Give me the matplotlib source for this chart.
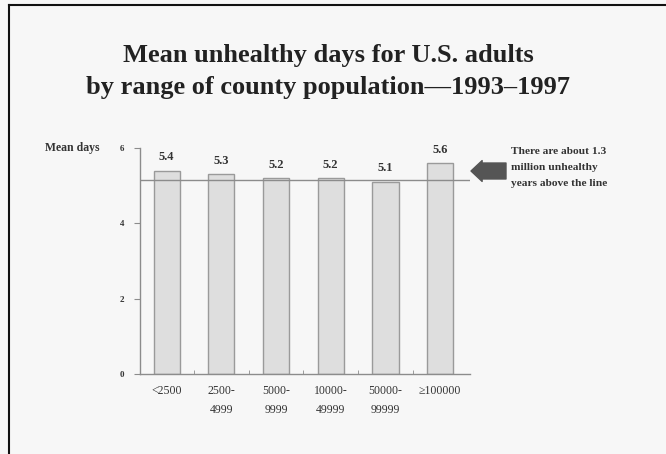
import matplotlib
matplotlib.use("Agg")
import matplotlib.pyplot as plt
from matplotlib.lines import Line2D

# Mean unhealthy days by county population size, 1993-1997
categories = ["<2500", "2500-\n4999", "5000-\n9999", "10000-\n49999", "50000-\n99999", "\u2265100000"]
mean_days = [5.4, 5.3, 5.2, 5.2, 5.1, 5.6]
overall_mean = 5.15
y_ticks = [0, 2, 4, 6]

plt.rcParams["font.family"] = ["Liberation Serif", "DejaVu Serif"]

fig = plt.figure(figsize=(6.66, 4.54), dpi=100, facecolor="#f7f7f7")
ax = fig.add_axes([0.210, 0.176, 0.496, 0.498])
ax.set_facecolor("#f7f7f7")

x = list(range(len(categories)))
ax.bar(x, mean_days, width=0.48, color="#dedede", edgecolor="#9a9a9a", linewidth=1.0, zorder=2)
ax.axhline(overall_mean, color="#8c8c8c", linewidth=1.0, zorder=3)

for xi, v in zip(x, mean_days):
    ax.text(xi, v + 0.2, f"{v:.1f}", ha="center", va="bottom", fontsize=9,
            fontweight="bold", color="#333333")

ax.set_xlim(-0.49, 5.55)
ax.set_ylim(0, 6)
ax.set_yticks(y_ticks)
ax.set_yticklabels([str(t) for t in y_ticks], fontsize=6.5, fontweight="bold", color="#333333")
ax.set_xticks(x)
ax.set_xticklabels(categories, fontsize=8.5, color="#333333", linespacing=1.75)
ax.tick_params(axis="x", length=0, pad=8)
ax.set_xticks([i + 0.5 for i in x[:-1]], minor=True)
ax.tick_params(axis="x", which="minor", length=3, direction="in", color="#8c8c8c")
ax.tick_params(axis="y", length=4, width=0.8, color="#8c8c8c", pad=7)

for side in ["top", "right"]:
    ax.spines[side].set_visible(False)
for side in ["left", "bottom"]:
    ax.spines[side].set_color("#8c8c8c")
    ax.spines[side].set_linewidth(1.0)

fig.text(0.067, 0.674, "Mean days", ha="left", va="center", fontsize=8.5,
         fontweight="bold", color="#333333")

fig.text(0.493, 0.843, "Mean unhealthy days for U.S. adults\nby range of county population\u20141993\u20131997",
         ha="center", va="center", fontsize=19, fontweight="bold", color="#222222",
         linespacing=1.5)

fig.text(0.767, 0.630, "There are about 1.3\nmillion unhealthy\nyears above the line",
         ha="left", va="center", fontsize=8.2, fontweight="bold", color="#333333",
         linespacing=2.0)

ax.annotate("", xy=(471, 454 - 171), xycoords="figure pixels",
            xytext=(506, 454 - 171), textcoords="figure pixels",
            arrowprops=dict(arrowstyle="simple,head_width=1.5,head_length=0.8,tail_width=1.15",
                            color="#555555", shrinkA=0, shrinkB=0))

# page frame along the top and left edges
fig.add_artist(Line2D([0.013, 1.0], [0.990, 0.990], transform=fig.transFigure,
                      color="#111111", linewidth=1.5))
fig.add_artist(Line2D([0.014, 0.014], [0.0, 0.990], transform=fig.transFigure,
                      color="#111111", linewidth=1.5))

fig.savefig("out.png", dpi=100, facecolor=fig.get_facecolor())
